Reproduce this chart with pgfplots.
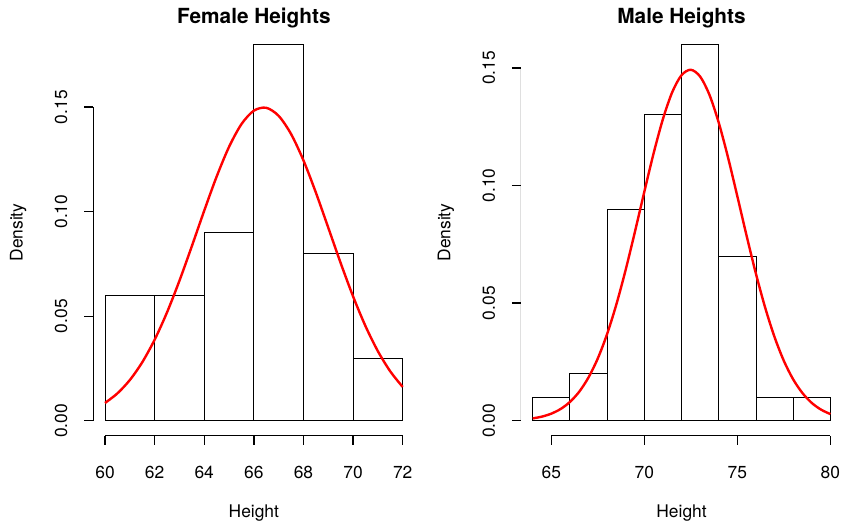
\documentclass[border=0pt]{standalone}
\usepackage{fontspec}
\setmainfont{TeX Gyre Heros}
\usepackage{pgfplots}
\pgfplotsset{compat=1.18}
\pgfplotsset{
  rhist/.style={
    scale only axis, width=321.5pt, height=406.5pt,
    anchor=south west,
    axis lines*=left,
    axis line style={draw=none},
    tick align=outside,
    major tick length=9pt,
    tick style={black, line width=1.3pt},
    font=\fontsize{17.4}{20}\selectfont,
    /pgf/number format/assume math mode=true,
    xticklabel style={anchor=north, inner sep=0pt, yshift=-21pt},
    yticklabel style={rotate=90, anchor=south, inner sep=0pt, yshift=16.5pt,
      /pgf/number format/.cd, fixed, fixed zerofill, precision=2},
    xlabel style={at={(axis description cs:0.5,-0.19)}, anchor=center, inner sep=0pt},
    ylabel style={at={(axis description cs:-0.2327,0.5)}, anchor=center, inner sep=0pt},
    title style={at={(axis description cs:0.5,1.013)}, anchor=center, inner sep=0pt,
      font=\bfseries\fontsize{20.8}{24}\selectfont},
    xlabel={Height}, ylabel={Density},
    ytick={0,0.05,0.10,0.15},
    scaled y ticks=false,
  }
}
\begin{document}
\begin{tikzpicture}
\path[use as bounding box] (0,0) rectangle (843pt,525pt);
% Female
\begin{axis}[rhist, at={(93.1pt,89.2pt)},
  title={Female Heights},
  xmin=59.52, xmax=72.48, ymin=-0.0072, ymax=0.1872,
  xtick={60,62,...,72}]
\addplot[ybar interval, draw=black, fill=none, line width=0.9pt] coordinates {
 (60,0.06) (62,0.06) (64,0.09) (66,0.18) (68,0.08) (70,0.03) (72,0.03)};
\addplot[red, line width=2.4pt, smooth] coordinates {
 (60,0.00849) (60.5,0.01309) (61,0.01946) (61.5,0.02795) (62,0.03874)
 (62.5,0.05183) (63,0.06694) (63.5,0.08347) (64,0.10048) (64.5,0.11676)
 (65,0.13098) (65.5,0.14184) (66,0.14829) (66.5,0.14966) (67,0.14580)
 (67.5,0.13712) (68,0.12450) (68.5,0.10912) (69,0.09233) (69.5,0.07541)
 (70,0.05947) (70.5,0.04526) (71,0.03326) (71.5,0.02360) (72,0.01616)};
\draw[line width=1.3pt] (axis cs:60,-0.0072) -- (axis cs:72,-0.0072);
\draw[line width=1.3pt] (axis cs:59.52,0) -- (axis cs:59.52,0.15);
\end{axis}
% Male
\begin{axis}[rhist, at={(520.8pt,89.2pt)},
  title={Male Heights},
  xmin=63.36, xmax=80.64, ymin=-0.0064, ymax=0.1664,
  xtick={65,70,75,80}]
\addplot[ybar interval, draw=black, fill=none, line width=0.9pt] coordinates {
 (64,0.01) (66,0.02) (68,0.09) (70,0.13) (72,0.16) (74,0.07) (76,0.01) (78,0.01) (80,0.01)};
\addplot[red, line width=2.4pt, smooth] coordinates {
 (64,0.00099) (64.5,0.00176) (65,0.00302) (65.5,0.00500) (66,0.00799)
 (66.5,0.01234) (67,0.01842) (67.5,0.02652) (68,0.03690) (68.5,0.04956)
 (69,0.06428) (69.5,0.08052) (70,0.09738) (70.5,0.11374) (71,0.12828)
 (71.5,0.13970) (72,0.14691) (72.5,0.14920) (73,0.14630) (73.5,0.13853)
 (74,0.12667) (74.5,0.11185) (75,0.09536) (75.5,0.07852) (76,0.06242)
 (76.5,0.04793) (77,0.03553) (77.5,0.02543) (78,0.01758) (78.5,0.01174)
 (79,0.00756) (79.5,0.00471) (80,0.00283)};
\draw[line width=1.3pt] (axis cs:65,-0.0064) -- (axis cs:80,-0.0064);
\draw[line width=1.3pt] (axis cs:63.36,0) -- (axis cs:63.36,0.15);
\end{axis}
\end{tikzpicture}
\end{document}
